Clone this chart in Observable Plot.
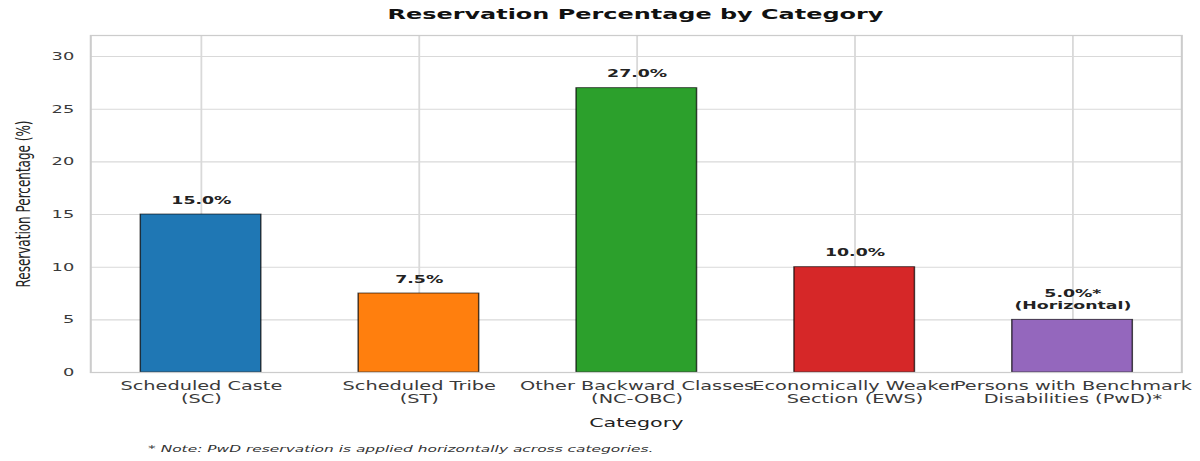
<!DOCTYPE html>
<html>
<head>
<meta charset="utf-8">
<script src="https://cdn.jsdelivr.net/npm/d3@7"></script>
<script src="https://cdn.jsdelivr.net/npm/@observablehq/plot@0.6"></script>
<style>
  html, body { margin: 0; padding: 0; background: #fff; overflow: hidden; }
  /* The chart is laid out on a narrower canvas and widened to the page width. */
  #chart {
    width: 727px; height: 461px; position: relative;
    transform: scaleX(1.6506); transform-origin: 0 0;
    font-family: "DejaVu Sans", sans-serif;
  }
  #title {
    height: 28px; line-height: 28px; box-sizing: border-box;
    padding-left: 54.5px; padding-right: 11.5px;
    text-align: center; font-weight: bold; font-size: 14.5px; color: #111;
  }
  #caption {
    position: absolute; left: 89.7px; top: 443px; line-height: 12px;
    font-style: italic; font-size: 9.35px; color: #333; white-space: nowrap;
  }
</style>
</head>
<body>
<div id="chart">
  <div id="title">Reservation Percentage by Category</div>
  <div id="plot"></div>
  <div id="caption">* Note: PwD reservation is applied horizontally across categories.</div>
</div>
<script>
// Reservation categories and their quota (%)
const categories = [
  "Scheduled Caste\n(SC)",
  "Scheduled Tribe\n(ST)",
  "Other Backward Classes\n(NC-OBC)",
  "Economically Weaker\nSection (EWS)",
  "Persons with Benchmark\nDisabilities (PwD)*"
];
const values = [15.0, 7.5, 27.0, 10.0, 5.0];
const colors = ["#1f77b4", "#ff7f0e", "#2ca02c", "#d62728", "#9467bd"];
const labelNotes = ["", "", "", "", "*\n(Horizontal)"];
const yTicks = [0, 5, 10, 15, 20, 25, 30];

const data = categories.map((category, i) => ({
  category,
  value: values[i],
  label: values[i].toFixed(1) + "%" + labelNotes[i]
}));

const chart = Plot.plot({
  width: 727,
  height: 410,
  marginTop: 7,
  marginBottom: 66,
  marginLeft: 54.5,
  marginRight: 11.5,
  style: { fontFamily: '"DejaVu Sans", sans-serif', background: "#fff", overflow: "visible" },
  x: { type: "band", domain: categories, paddingInner: 0.45, paddingOuter: 0.225, label: null },
  y: { domain: [0, 32], label: null },
  color: { domain: categories, range: colors },
  marks: [
    Plot.gridY(yTicks, { stroke: "#d9d9d9", strokeOpacity: 1, strokeWidth: 1.1 }),
    Plot.gridX({ stroke: "#d9d9d9", strokeOpacity: 1, strokeWidth: 1.1 }),
    Plot.barY(data, {
      x: "category", y: "value", fill: "category",
      stroke: "#000", strokeOpacity: 0.7, strokeWidth: 0.9
    }),
    Plot.frame({ stroke: "#cccccc", strokeWidth: 1.25 }),
    Plot.axisY(yTicks, { tickSize: 0, tickPadding: 10, fontSize: 10.8, color: "#3a3a3a", label: null }),
    Plot.axisX({ tickSize: 0, tickPadding: 8, fontSize: 11.7, color: "#3a3a3a", lineHeight: 1.1, label: null }),
    Plot.text(data, {
      x: "category", y: "value", text: "label",
      lineAnchor: "bottom", dy: -11, lineHeight: 1.15,
      fontWeight: "bold", fontSize: 10.5, fill: "#222"
    }),
    Plot.text(["Reservation Percentage (%)"], {
      frameAnchor: "left", textAnchor: "middle", rotate: -90, dx: -40.5, fontSize: 12, fill: "#222"
    }),
    Plot.text(["Category"], {
      frameAnchor: "bottom", dy: 50, lineAnchor: "middle", fontSize: 12.5, fill: "#222"
    })
  ]
});

document.getElementById("plot").appendChild(chart);
</script>
</body>
</html>
